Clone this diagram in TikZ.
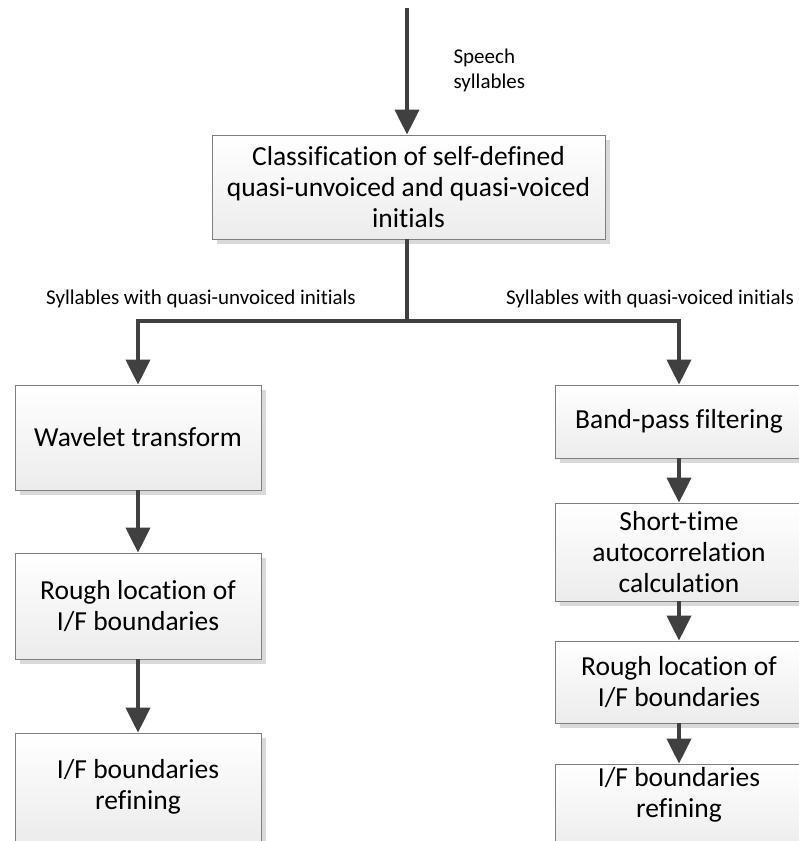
\documentclass[tikz,border=0pt]{standalone}
\usepackage{fontspec}
\setmainfont{Carlito}[Ligatures=NoCommon]
\usepackage{tikz}
\usetikzlibrary{arrows.meta,shadows}

\definecolor{flowgray}{HTML}{404040}
\definecolor{boxline}{HTML}{7F7F7F}

\begin{document}
\begin{tikzpicture}[x=1pt,y=-1pt,
        box/.style={draw=boxline, line width=0.8pt, top color=white, bottom color=gray!15, align=center, inner sep=2pt,
            font=\fontsize{27.5}{31}\selectfont,
            drop shadow={shadow xshift=5pt, shadow yshift=-5pt, fill=gray!30, opacity=1}},
        lbl/.style={font=\fontsize{21}{25}\selectfont, align=left},
        flow/.style={-{Triangle[width=24pt,length=25pt]}, line width=4pt, draw=flowgray}
    ]
        \clip (0,0) rectangle (799,841);

        % top
        \coordinate (in) at (407,8);
        \node[box, minimum width=393pt, minimum height=104pt] (cls) at (408.5,187) {Classification of self-defined\\quasi-unvoiced and quasi-voiced\\initials};
        \node[lbl, anchor=west] (speech) at (450,70) {Speech\\syllables};
        \draw[flow] (in) -- (cls.north -| in);

        % left branch
        \node[box, minimum width=246pt, minimum height=105pt] (wav) at (138,437.5) {Wavelet transform};
        \node[box, minimum width=246pt, minimum height=106pt] (roughl) at (138,606) {Rough location of\\I/F boundaries};
        \node[box, minimum width=246pt, minimum height=108pt] (refl) at (138,787) {I/F boundaries\\refining};

        % right branch
        \node[box, minimum width=248pt, minimum height=73pt] (band) at (679,421.5) {Band-pass filtering};
        \node[box, minimum width=248pt, minimum height=98pt] (short) at (679,552) {Short-time\\autocorrelation\\calculation};
        \node[box, minimum width=248pt, minimum height=82pt] (roughr) at (679,682) {Rough location of\\I/F boundaries};
        \node[box, minimum width=248pt, minimum height=86pt, text depth=30pt] (refr) at (679,807) {I/F boundaries\\refining};

        % split
        \coordinate (split) at (407,321);
        \node[lbl] (unv) at (201,299) {Syllables with quasi-unvoiced initials};
        \node[lbl] (voi) at (650,299) {Syllables with quasi-voiced initials};
        \draw[line width=4pt, draw=flowgray] (cls.south -| split) -- (split);
        \draw[flow] (split) -| (wav.north);
        \draw[flow] (split) -| (band.north);

        \draw[flow] (wav) -- (roughl);
        \draw[flow] (roughl) -- (refl);
        \draw[flow] (band) -- (short);
        \draw[flow] (short) -- (roughr);
        \draw[flow] (roughr) -- (refr);
    \end{tikzpicture}
\end{document}
